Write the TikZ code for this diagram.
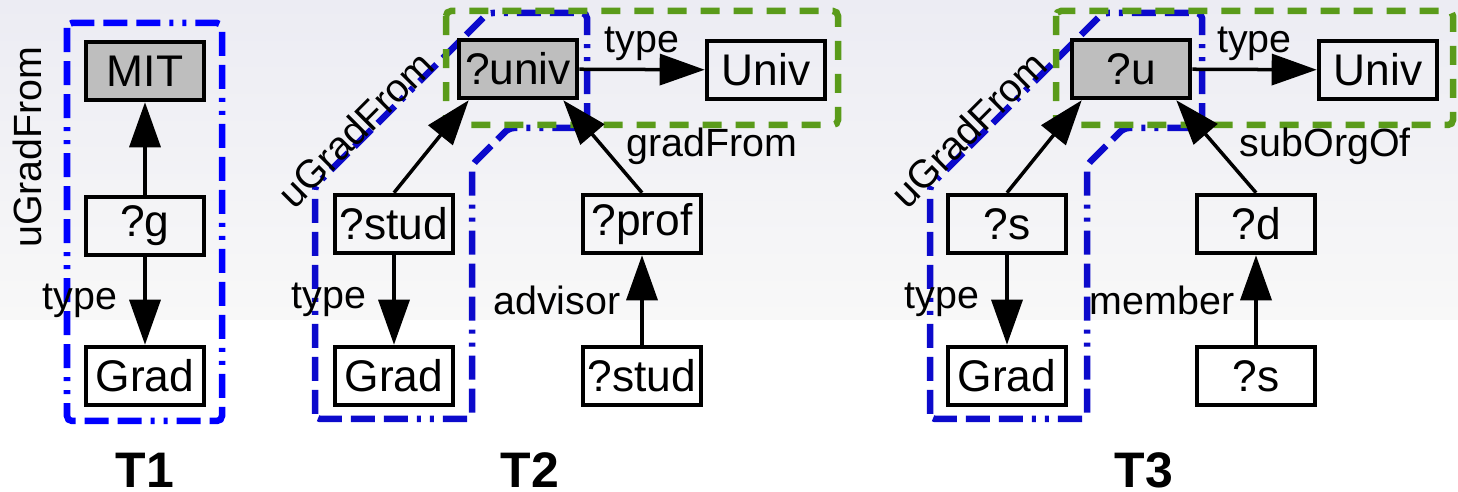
\documentclass[tikz,border=0pt]{standalone}
\usepackage{fontspec}
\setmainfont{Liberation Sans}
\usepackage[dvipsnames]{xcolor}
\usetikzlibrary{arrows.meta}

\definecolor{boxgray}{RGB}{190,190,190}
\definecolor{ublue}{RGB}{0,0,255}
\definecolor{ubluedark}{RGB}{12,10,204}
\definecolor{tgreen}{RGB}{90,155,26}

\begin{document}
\begin{tikzpicture}[x=0.01cm,y=-0.01cm]

\tikzstyle{term}=[draw, line width=0.045cm, minimum width=1.18cm,
  minimum height=0.58cm, inner sep=0pt, font=\fontsize{12.6}{14}\selectfont]
\tikzstyle{bound}=[term, fill=boxgray]
\tikzstyle{edge}=[line width=0.035cm, -{Triangle[length=0.45cm,width=0.31cm]}]
\tikzstyle{lbl}=[inner sep=0pt, font=\fontsize{11.2}{13}\selectfont]
\tikzstyle{tname}=[inner sep=0pt, font=\fontsize{14.2}{16}\selectfont\bfseries]
\tikzstyle{ugroup}=[line width=0.065cm, rounded corners=0.05cm,
  dash pattern=on 0.24cm off 0.09cm on 0.24cm off 0.09cm on 0.24cm off 0.09cm
  on 0.04cm off 0.09cm on 0.04cm off 0.09cm]
\tikzstyle{tgroup}=[line width=0.065cm, tgreen, rounded corners=0.05cm,
  dash pattern=on 0.19cm off 0.14cm]

\useasboundingbox (0,0) rectangle (1458,492);

%%% BACKGROUND %%%
\fill[white] (0,0) rectangle (1458,492);
\shade[top color={rgb,255:red,236;green,236;blue,243},
  bottom color={rgb,255:red,248;green,248;blue,248}] (0,0) rectangle (1458,320);

%%% GROUPS %%%
\draw[ugroup, ublue] (67,23) rectangle (222,421);
\draw[ugroup, ubluedark] (315,419) -- (315,186) -- (488,13) -- (587,13)
  -- (587,128) -- (509,128) -- (472,165) -- (472,419) -- cycle;
\draw[ugroup, ubluedark] (930,419) -- (930,186) -- (1103,13) -- (1202,13)
  -- (1202,128) -- (1124,128) -- (1087,165) -- (1087,419) -- cycle;
\draw[tgroup] (446,11) rectangle (838,125);
\draw[tgroup] (1056,11) rectangle (1453,125);

%%% T1 %%%
\node[bound] (mit) at (145,71) {MIT};
\node[term] (g) at (145,226) {?g};
\node[term] (grada) at (145,376) {Grad};
\draw[edge] (g) -- (mit);
\draw[edge] (g) -- (grada) node[lbl, midway, anchor=east, xshift=-0.26cm] {type};
\node[lbl, rotate=90, anchor=south] (ugfa) at (43,147) {uGradFrom};
\node[tname] (ta) at (145,470) {T1};

%%% T2 %%%
\node[bound] (univ) at (518,69) {?univ};
\node[term] (univb) at (766,70) {Univ};
\node[term] (stud) at (394,224) {?stud};
\node[term] (gradb) at (394,376) {Grad};
\node[term] (prof) at (642,224) {?prof};
\node[term] (studb) at (642,376) {?stud};
\draw[edge] (univ) -- (univb) node[lbl, midway, above=0.07cm] {type};
\draw[edge] (stud.north) -- ([xshift=0.12cm]univ.south west);
\draw[edge] (prof.north) -- ([xshift=-0.16cm]univ.south east)
  node[lbl, midway, anchor=west, xshift=0.22cm] {gradFrom};
\draw[edge] (stud) -- (gradb) node[lbl, midway, anchor=east, xshift=-0.26cm] {type};
\draw[edge] (studb) -- (prof) node[lbl, midway, anchor=east, xshift=-0.2cm] {advisor};
\node[lbl, rotate=45, anchor=south] (ugfb) at (366,140) {uGradFrom};
\node[tname] (tb) at (530,470) {T2};

%%% T3 %%%
\node[bound] (u) at (1131,69) {?u};
\node[term] (univc) at (1378,70) {Univ};
\node[term] (s) at (1007,224) {?s};
\node[term] (gradc) at (1007,376) {Grad};
\node[term] (d) at (1256,224) {?d};
\node[term] (sb) at (1256,376) {?s};
\draw[edge] (u) -- (univc) node[lbl, midway, above=0.07cm] {type};
\draw[edge] (s.north) -- ([xshift=0.12cm]u.south west);
\draw[edge] (d.north) -- ([xshift=-0.16cm]u.south east)
  node[lbl, midway, anchor=west, xshift=0.22cm] {subOrgOf};
\draw[edge] (s) -- (gradc) node[lbl, midway, anchor=east, xshift=-0.26cm] {type};
\draw[edge] (sb) -- (d) node[lbl, midway, anchor=east, xshift=-0.2cm] {member};
\node[lbl, rotate=45, anchor=south] (ugfc) at (979,140) {uGradFrom};
\node[tname] (tc) at (1144,470) {T3};

\end{tikzpicture}
\end{document}
